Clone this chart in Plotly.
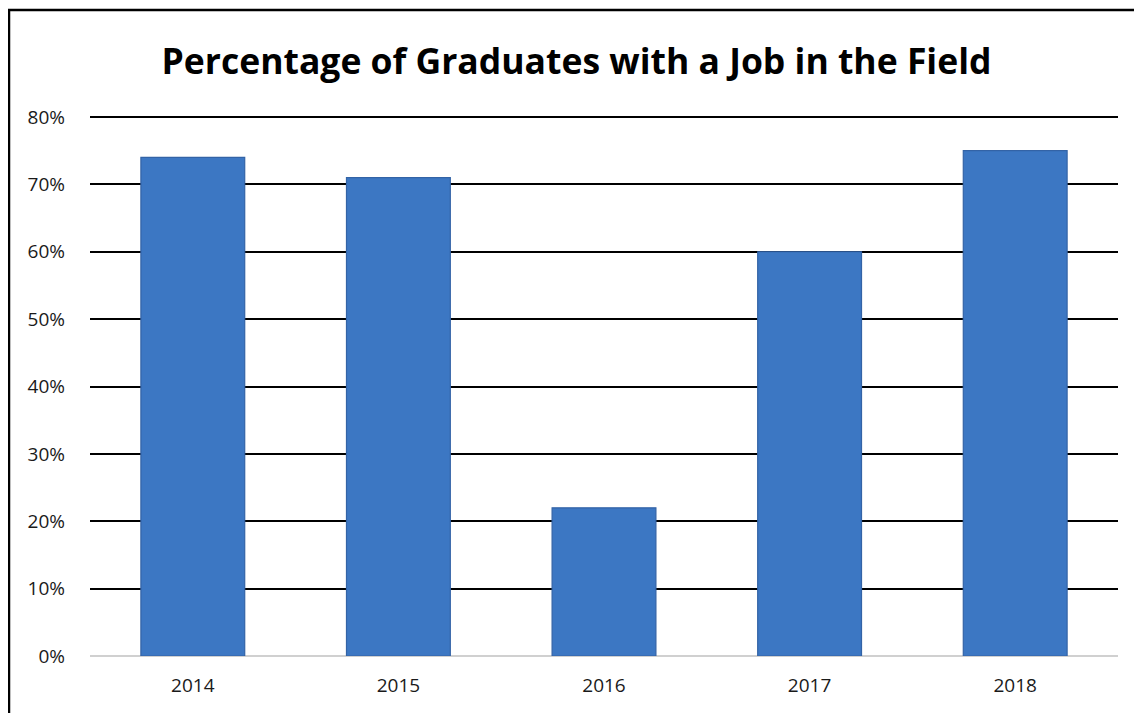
import plotly.graph_objects as go

years = ["2014", "2015", "2016", "2017", "2018"]
values = [0.74, 0.71, 0.22, 0.60, 0.75]
tick_vals = [0, 0.1, 0.2, 0.3, 0.4, 0.5, 0.6, 0.7, 0.8]
tick_text = ["0%", "10%", "20%", "30%", "40%", "50%", "60%", "70%", "80%"]

# page body has an 8px margin, so the figure is drawn 8px in from the window edge
W, H = 1134, 705
L, R, T, B = 82, 24, 108, 57
pw, ph = W - L - R, H - T - B

fig = go.Figure()
fig.add_trace(go.Bar(
    x=years, y=values,
    marker=dict(color="#3C77C3", line=dict(color="#3363A6", width=1.2)),
    width=0.505,
    hoverinfo="skip",
))

def px_x(p):
    return (p - L) / pw

def px_y(p):
    return (H - B - p) / ph

fig.add_shape(type="rect", xref="paper", yref="paper",
              x0=px_x(1), x1=px_x(W + 30), y0=px_y(H + 30), y1=px_y(2),
              line=dict(color="black", width=2.5), fillcolor="rgba(0,0,0,0)",
              layer="below")

fig.update_layout(
    width=W, height=H,
    margin=dict(l=L, r=R, t=T, b=B),
    paper_bgcolor="white", plot_bgcolor="white",
    showlegend=False,
    title=dict(text="<b>Percentage of Graduates with a Job in the Field</b>",
               x=568.5 / W, xref="container", xanchor="center",
               y=1 - 54 / H, yref="container", yanchor="middle",
               font=dict(family="Open Sans, Liberation Sans, sans-serif", size=35.5, color="black")),
    font=dict(family="Open Sans, Liberation Sans, sans-serif", size=19, color="#1a1a1a"),
)
fig.update_xaxes(showgrid=False, showline=False, ticks="", tickfont=dict(size=19),
                 ticklabelstandoff=16)
fig.update_yaxes(range=[0, 0.8015], tickvals=tick_vals, ticktext=tick_text,
                 showgrid=True, gridcolor="black", gridwidth=1.5,
                 zeroline=True, zerolinecolor="#D0D0D0", zerolinewidth=2,
                 showline=False, ticks="", tickfont=dict(size=19),
                 ticklabelstandoff=24)

fig.write_html("out.html")
